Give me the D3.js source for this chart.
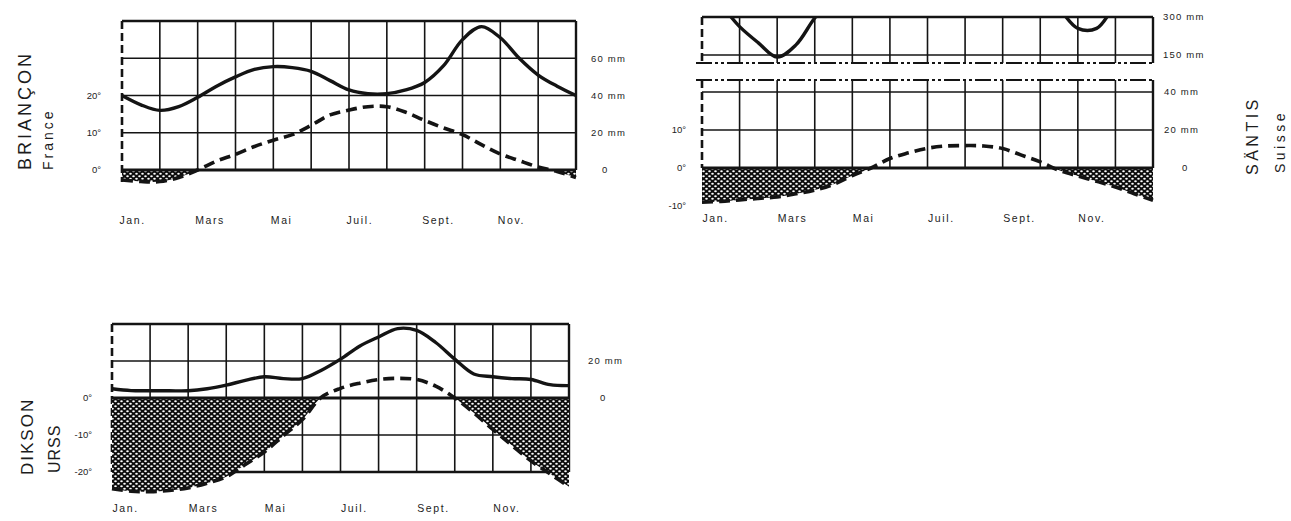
<!DOCTYPE html>
<html><head><meta charset="utf-8">
<script src="https://cdn.jsdelivr.net/npm/d3@7/dist/d3.min.js"></script>
<style>
html,body{margin:0;padding:0;background:#fff;}
svg{display:block;}
text{font-family:"Liberation Sans",Arial,sans-serif;fill:#1c1c1c;}
</style></head><body>
<svg id="chart" width="1291" height="521"></svg>
<script>
// ---------- DATA ----------
// positions along the year (months from 1 Jan), one value every half month
const halfMonths = [0,0.5,1,1.5,2,2.5,3,3.5,4,4.5,5,5.5,6,6.5,7,7.5,8,8.5,9,9.5,10,10.5,11,11.5,12];
const monthTicks = [0,2,4,6,8,10];
const monthLabels = ["Jan.","Mars","Mai","Juil.","Sept.","Nov."];

// Briançon (France): precipitation (mm) and temperature (°C)
const brianconPrecip = [40,35,32,34,39,45,50,54,55.5,55,53,48,43,41,41,43,47,56,70,77,71,60,51,45,40];
const brianconTemp   = [-2.7,-3.1,-3.1,-2,0,2.4,4.2,6.3,8,9.5,12,14.8,16.1,17,17,15.5,13.3,11.3,9.5,6.8,4.3,2.5,0.8,-0.4,-2];

// Säntis (Suisse)
const santisPrecip = [400,345,262,198,142,190,296,380,420,430,430,430,430,430,430,430,430,430,420,335,255,255,345,400,420];
const santisTemp   = [-9,-8.8,-8.4,-8,-7.6,-6.8,-5.8,-4.3,-2,0,2.5,4,5.2,5.8,5.9,5.8,5.1,3.4,1.6,-0.6,-2.1,-3.5,-5,-6.8,-8.5];

// Dikson (URSS)
const diksonPrecip = [5,4,3.9,3.9,3.9,5,7,9.5,11.5,10.5,10.5,15,21,28,33,37.5,36.5,30,21,13,11.5,10.5,10,7.2,6.7];
const diksonTemp   = [-24.5,-25.2,-25.3,-25,-24.3,-23,-21.3,-18,-14.6,-10.2,-5.8,0.2,2.6,4,5,5.3,5,3.2,0,-4,-8.5,-12.8,-17,-20.5,-24];

// axis tick labels
const brianconLeftTicks = [0,10,20];          // °C
const brianconRightTicks = [0,20,40,60];      // mm
const santisLeftTicks = [-10,0,10];
const santisRightLow = [0,20,40];
const santisRightHigh = [150,300];
const diksonLeftTicks = [-20,-10,0];
const diksonRightTicks = [0,20];

// ---------- DRAW ----------
const INK = "#141414";
const svg = d3.select("#chart");
const defs = svg.append("defs");
const pat = defs.append("pattern").attr("id","stipple").attr("patternUnits","userSpaceOnUse")
  .attr("width",6).attr("height",5);
pat.append("rect").attr("width",6).attr("height",5).attr("fill","#0c0c0c");
pat.append("ellipse").attr("cx",1.5).attr("cy",1.25).attr("rx",1.3).attr("ry",0.95).attr("fill","#fff");
pat.append("ellipse").attr("cx",4.5).attr("cy",3.75).attr("rx",1.3).attr("ry",0.95).attr("fill","#fff");

const curve = d3.curveCatmullRom.alpha(0.5);
const pts = vals => halfMonths.map((m,i)=>({m, v: vals[i]}));

function hLines(g, x, yPos, w){
  g.append("g").selectAll("line").data(yPos).join("line")
    .attr("x1",x(0)).attr("x2",x(12)).attr("y1",d=>d).attr("y2",d=>d)
    .attr("stroke",INK).attr("stroke-width",w);
}
function vLines(g, x, y1, y2){
  g.append("g").selectAll("line").data(d3.range(1,12)).join("line")
    .attr("x1",d=>x(d)).attr("x2",d=>x(d)).attr("y1",y1).attr("y2",y2)
    .attr("stroke",INK).attr("stroke-width",1.6);
}
function monthAxis(g, x, y, dx){
  const a = g.append("g").attr("transform",`translate(0,${y})`)
    .call(d3.axisBottom(x).tickValues(monthTicks).tickFormat((d,i)=>monthLabels[i]).tickSize(0).tickPadding(0));
  a.select(".domain").remove();
  a.selectAll("text").attr("text-anchor","start").attr("dx",dx).attr("dy","0.71em")
    .style("font-size","10.5px").style("letter-spacing","1.6px").style("font-family","Liberation Sans, Arial, sans-serif").attr("fill","#1c1c1c");
}
function leftLabels(g, ticks, yFn, xEnd){
  g.append("g").selectAll("text").data(ticks).join("text")
    .attr("x",xEnd).attr("y",d=>yFn(d)).attr("dy","0.35em").attr("text-anchor","end")
    .style("font-size","9.5px").text(d=>d+"°");
}
function rightLabels(g, ticks, yFn, x, x0){
  g.append("g").selectAll("text").data(ticks).join("text")
    .attr("x",d=> d===0 ? x0 : x).attr("y",d=>yFn(d)).attr("dy","0.35em")
    .style("font-size","9.5px").style("letter-spacing","1.2px").text(d=> d===0 ? "0" : d+" mm");
}
function rotTitle(g, text, x, y, size, ls){
  g.append("text").attr("transform",`translate(${x},${y}) rotate(-90)`)
    .style("font-size",size+"px").style("letter-spacing",ls+"px").text(text);
}
function tempParts(g, x, yT, zeroY, vals, clipId){
  const data = pts(vals);
  defs.append("clipPath").attr("id",clipId).append("rect")
    .attr("x",x(0)-3).attr("y",zeroY).attr("width",x(12)-x(0)+5).attr("height",120);
  g.append("path").datum(data).attr("clip-path",`url(#${clipId})`)
    .attr("d", d3.area().x(d=>x(d.m)).y0(zeroY).y1(d=>yT(d.v)).curve(curve))
    .attr("fill","url(#stipple)");
  g.append("path").datum(data)
    .attr("d", d3.line().x(d=>x(d.m)).y(d=>yT(d.v)).curve(curve))
    .attr("fill","none").attr("stroke",INK).attr("stroke-width",3.6).attr("stroke-dasharray","11,6");
}
function precipLine(g, x, y, vals, clip){
  const p = g.append("path").datum(pts(vals))
    .attr("d", d3.line().x(d=>x(d.m)).y(d=>y(d.v)).curve(curve))
    .attr("fill","none").attr("stroke",INK).attr("stroke-width",3.4);
  if (clip) p.attr("clip-path",`url(#${clip})`);
}

// ===== Briançon =====
{
  const g = svg.append("g");
  const x = d3.scaleLinear().domain([0,12]).range([122,576]);
  const y = d3.scaleLinear().domain([0,80]).range([170,21]);
  const yT = t => y(2*t);
  hLines(g, x, [y(20),y(40),y(60)], 1.6);
  vLines(g, x, y(80), y(0));
  hLines(g, x, [y(80)], 2.6);
  g.append("line").attr("x1",x(12)).attr("x2",x(12)).attr("y1",y(80)).attr("y2",y(0)).attr("stroke",INK).attr("stroke-width",2.4);
  tempParts(g, x, yT, y(0), brianconTemp, "clipB");
  hLines(g, x, [y(0)], 3);
  g.append("line").attr("x1",x(0)).attr("x2",x(0)).attr("y1",y(80)).attr("y2",yT(-3.2))
    .attr("stroke",INK).attr("stroke-width",2.6).attr("stroke-dasharray","8,4");
  precipLine(g, x, y, brianconPrecip);
  monthAxis(g, x, 217, -3);
  leftLabels(g, brianconLeftTicks, yT, 101);
  rightLabels(g, brianconRightTicks, y, 591, 602);
  rotTitle(g, "BRIANÇON", 31, 170, 18, 3);
  rotTitle(g, "France", 53, 170, 14, 3);
}

// ===== Säntis =====
{
  const g = svg.append("g");
  const x = d3.scaleLinear().domain([0,12]).range([702,1153]);
  const yLow = d3.scaleLinear().domain([0,40]).range([168,92]);
  const yUp = d3.scaleLinear().domain([150,300]).range([55,17]);
  const yT = t => yLow(2*t);
  const upBottom = 63, lowTop = 80;
  hLines(g, x, [yLow(20), yLow(40), yUp(150)], 1.6);
  vLines(g, x, yUp(300), upBottom);
  vLines(g, x, lowTop, yLow(0));
  hLines(g, x, [yUp(300)], 2.6);
  g.append("line").attr("x1",x(12)).attr("x2",x(12)).attr("y1",yUp(300)).attr("y2",upBottom).attr("stroke",INK).attr("stroke-width",2.4);
  g.append("line").attr("x1",x(12)).attr("x2",x(12)).attr("y1",lowTop).attr("y2",yLow(0)).attr("stroke",INK).attr("stroke-width",2.4);
  // break lines
  g.append("g").selectAll("line").data([upBottom, lowTop]).join("line")
    .attr("x1",x(0)-6).attr("x2",x(12)+2).attr("y1",d=>d).attr("y2",d=>d)
    .attr("stroke",INK).attr("stroke-width",2).attr("stroke-dasharray","16,3,3,3,3,3");
  tempParts(g, x, yT, yLow(0), santisTemp, "clipS");
  hLines(g, x, [yLow(0)], 3);
  g.append("line").attr("x1",x(0)).attr("x2",x(0)).attr("y1",yUp(300)).attr("y2",upBottom)
    .attr("stroke",INK).attr("stroke-width",2.6).attr("stroke-dasharray","8,4");
  g.append("line").attr("x1",x(0)).attr("x2",x(0)).attr("y1",lowTop).attr("y2",yLow(0))
    .attr("stroke",INK).attr("stroke-width",2.6).attr("stroke-dasharray","8,4");
  defs.append("clipPath").attr("id","clipSup").append("rect")
    .attr("x",x(0)).attr("y",yUp(300)).attr("width",x(12)-x(0)).attr("height",upBottom-yUp(300));
  precipLine(g, x, yUp, santisPrecip, "clipSup");
  monthAxis(g, x, 215, 0);
  leftLabels(g, santisLeftTicks, yT, 686);
  rightLabels(g, santisRightLow, yLow, 1164, 1182);
  rightLabels(g, santisRightHigh, yUp, 1163, 1182);
  rotTitle(g, "SÄNTIS", 1258, 175, 16, 3.5);
  rotTitle(g, "Suisse", 1285, 173, 14, 3.5);
}

// ===== Dikson =====
{
  const g = svg.append("g");
  const x = d3.scaleLinear().domain([0,12]).range([112,569]);
  const y = d3.scaleLinear().domain([-40,40]).range([472,324]);
  const yT = t => y(2*t);
  hLines(g, x, [y(20), y(-20)], 1.6);
  vLines(g, x, y(40), y(-40));
  hLines(g, x, [y(40), y(-40)], 2.6);
  g.append("line").attr("x1",x(12)).attr("x2",x(12)).attr("y1",y(40)).attr("y2",y(-40)).attr("stroke",INK).attr("stroke-width",2.4);
  g.append("line").attr("x1",x(0)).attr("x2",x(0)).attr("y1",y(40)).attr("y2",y(-40))
    .attr("stroke",INK).attr("stroke-width",2.6).attr("stroke-dasharray","8,4");
  tempParts(g, x, yT, y(0), diksonTemp, "clipD");
  hLines(g, x, [y(0)], 3);
  precipLine(g, x, y, diksonPrecip);
  monthAxis(g, x, 505, 0);
  leftLabels(g, diksonLeftTicks, yT, 92);
  rightLabels(g, diksonRightTicks, y, 588, 600);
  rotTitle(g, "DIKSON", 33, 475, 17, 2);
  rotTitle(g, "URSS", 60, 473, 16, 1);
}
</script>
</body></html>
